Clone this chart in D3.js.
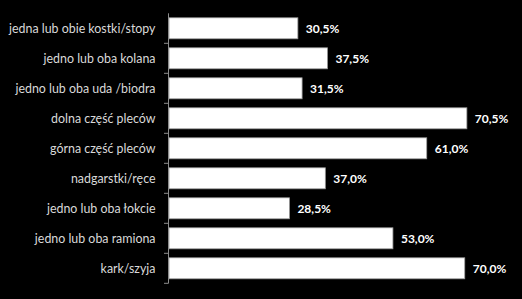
<!DOCTYPE html>
<html><head><meta charset="utf-8">
<script src="https://cdn.jsdelivr.net/npm/d3@7"></script>
<style>html,body{margin:0;padding:0;background:#000;}svg{display:block;}</style>
</head><body>
<svg id="c" width="522" height="299"></svg>
<script>
const categories = ["jedna lub obie kostki/stopy","jedno lub oba kolana","jedno lub oba uda /biodra","dolna część pleców","górna część pleców","nadgarstki/ręce","jedno lub oba łokcie","jedno lub oba ramiona","kark/szyja"];
const values = [30.5,37.5,31.5,70.5,61.0,37.0,28.5,53.0,70.0];
const valueLabels = ["30,5%","37,5%","31,5%","70,5%","61,0%","37,0%","28,5%","53,0%","70,0%"];

const svg = d3.select("#c");
svg.append("rect").attr("width",522).attr("height",299).attr("fill","#000");
const x0 = 169;
const x = d3.scaleLinear().domain([0,80]).range([x0, x0+338]);
const y = d3.scaleBand().domain(categories).range([13.3,283.3]).paddingInner(0.3).paddingOuter(0.15);

const g = svg.append("g");
g.selectAll("rect.bar").data(values).join("rect").attr("class","bar")
  .attr("x", x(0)).attr("y",(d,i)=>y(categories[i]))
  .attr("width", d=>x(d)-x(0)).attr("height", y.bandwidth())
  .attr("fill","#fff").attr("stroke","#9a9a9a").attr("stroke-width",0.8);

const step = y.step();
const ax = svg.append("g").attr("stroke","#8c8c8c").attr("stroke-width",1);
ax.append("line").attr("x1",x0-0.5).attr("x2",x0-0.5).attr("y1",13.3).attr("y2",283.3);
const tickYs = d3.range(categories.length+1).map(i=>13.3+i*step);
ax.selectAll("line.t").data(tickYs.slice(1)).join("line").attr("class","t")
  .attr("x1",x0-5).attr("x2",x0-0.5).attr("y1",d=>d).attr("y2",d=>d);

svg.selectAll("text.cat").data(categories).join("text").attr("class","cat")
  .attr("x",155.5).attr("y",d=>y(d)+y.bandwidth()/2).attr("dy","0.35em")
  .attr("text-anchor","end").attr("fill","#d9d9d9")
  .style("font-family","Lato, 'Open Sans', sans-serif").style("font-size","12.4px")
  .text(d=>d);

svg.selectAll("text.val").data(values).join("text").attr("class","val")
  .attr("x",d=>x(d)+8).attr("y",(d,i)=>y(categories[i])+y.bandwidth()/2).attr("dy","0.35em")
  .attr("fill","#fff").style("font-weight","bold")
  .style("font-family","Lato, 'Open Sans', sans-serif").style("font-size","12px")
  .text((d,i)=>valueLabels[i]);
</script>
</body></html>
